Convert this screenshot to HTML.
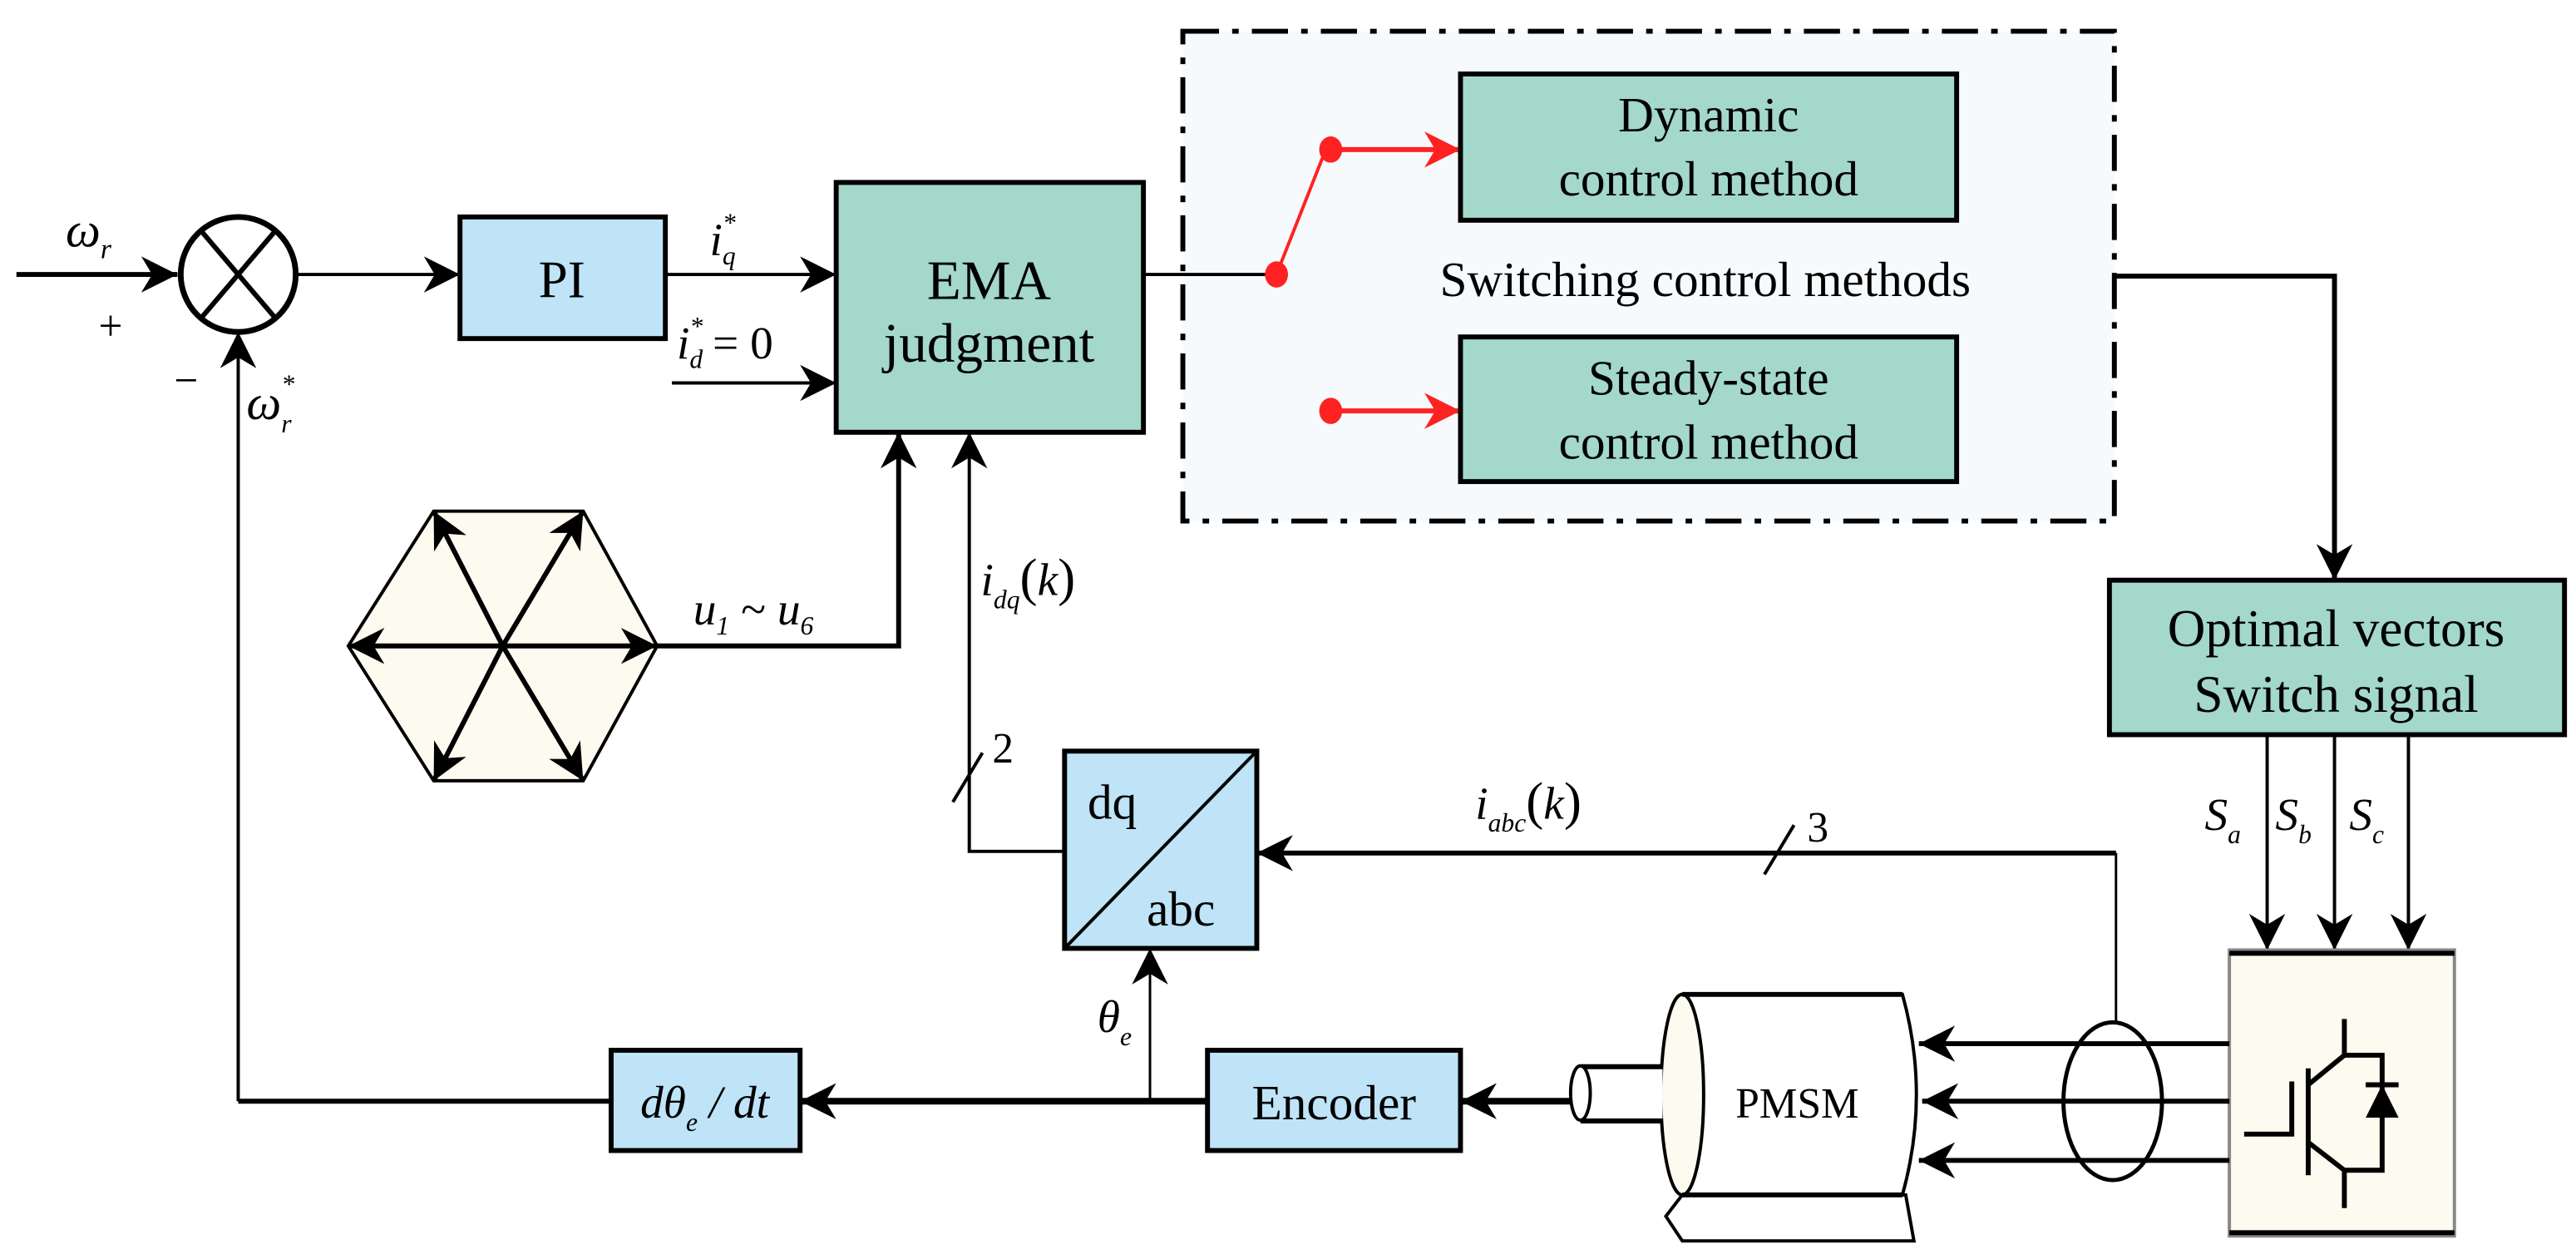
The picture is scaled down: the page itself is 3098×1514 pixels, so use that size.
<!DOCTYPE html>
<html><head><meta charset="utf-8"><style>html,body{margin:0;padding:0;background:#fff}svg{display:block}</style></head><body>
<svg width="3098" height="1514" viewBox="0 0 1568 766" preserveAspectRatio="none" xmlns="http://www.w3.org/2000/svg" font-family="Liberation Serif, serif">
<defs>
<marker id="A" viewBox="0 0 10 10" markerWidth="22" markerHeight="22" refX="10" refY="5" orient="auto" markerUnits="userSpaceOnUse"><path d="M0,0 L10,5 L0,10 L3,5 z" fill="#000"/></marker>
<marker id="R" viewBox="0 0 10 10" markerWidth="22" markerHeight="22" refX="10" refY="5" orient="auto" markerUnits="userSpaceOnUse"><path d="M0,0 L10,5 L0,10 L3,5 z" fill="#f22"/></marker>
</defs>
<rect x="720" y="19" width="567" height="298" fill="#f7fafc" stroke="#000" stroke-width="3" stroke-dasharray="22,8,4,8"/>
<line x1="10" y1="167" x2="108" y2="167" stroke="#000" stroke-width="3" marker-end="url(#A)"/>
<text x="40" y="150" font-size="30" font-style="italic">ω<tspan font-size="17" dy="7">r</tspan></text>
<text x="60" y="207" font-size="26">+</text>
<text x="106" y="240" font-size="26">−</text>
<ellipse cx="145" cy="167" rx="35" ry="35" fill="#fff" stroke="#000" stroke-width="3.5"/>
<line x1="122" y1="140" x2="168" y2="194" stroke="#000" stroke-width="3"/>
<line x1="168" y1="140" x2="122" y2="194" stroke="#000" stroke-width="3"/>
<line x1="180" y1="167" x2="280" y2="167" stroke="#000" stroke-width="2" marker-end="url(#A)"/>
<rect x="280" y="132" width="125" height="74" fill="#bfe3f7" stroke="#000" stroke-width="3"/>
<text x="342" y="181" font-size="32" text-anchor="middle">PI</text>
<line x1="405" y1="167" x2="509" y2="167" stroke="#000" stroke-width="2" marker-end="url(#A)"/>
<text x="432" y="155" font-size="28" font-style="italic">i<tspan font-size="16" dy="-14">*</tspan><tspan font-size="16" dx="-8" dy="20">q</tspan></text>
<line x1="409" y1="233" x2="509" y2="233" stroke="#000" stroke-width="2" marker-end="url(#A)"/>
<text x="412" y="218" font-size="28" font-style="italic">i<tspan font-size="16" dy="-14">*</tspan><tspan font-size="16" dx="-8" dy="20">d</tspan><tspan font-style="normal" font-size="28" dx="6" dy="-6">= 0</tspan></text>
<rect x="509" y="111" width="187" height="152" fill="#a3d8cb" stroke="#000" stroke-width="3"/>
<text x="602" y="182" font-size="34" text-anchor="middle">EMA</text>
<text x="602" y="220" font-size="34" text-anchor="middle">judgment</text>
<line x1="145" y1="670" x2="145" y2="202" stroke="#000" stroke-width="2" marker-end="url(#A)"/>
<text x="150" y="255" font-size="30" font-style="italic">ω<tspan font-size="16" dy="-16">*</tspan><tspan font-size="16" dx="-8" dy="24">r</tspan></text>
<polygon points="212,393 264,311 355,311 400,393 355,475 264,475" fill="#fdfaf0" stroke="#000" stroke-width="2"/>
<g stroke="#000" stroke-width="3">
<line x1="306" y1="393" x2="212" y2="393" marker-end="url(#A)"/>
<line x1="306" y1="393" x2="400" y2="393" marker-end="url(#A)"/>
<line x1="306" y1="393" x2="264" y2="311" marker-end="url(#A)"/>
<line x1="306" y1="393" x2="355" y2="311" marker-end="url(#A)"/>
<line x1="306" y1="393" x2="264" y2="475" marker-end="url(#A)"/>
<line x1="306" y1="393" x2="355" y2="475" marker-end="url(#A)"/>
</g>
<polyline points="400,393 547,393 547,263" fill="none" stroke="#000" stroke-width="3" marker-end="url(#A)"/>
<text x="422" y="380" font-size="28" font-style="italic">u<tspan font-size="16" dy="6">1</tspan><tspan font-style="normal" dy="-6"> ~ </tspan>u<tspan font-size="16" dy="6">6</tspan></text>
<polyline points="648,518 590,518 590,263" fill="none" stroke="#000" stroke-width="2" marker-end="url(#A)"/>
<text x="597" y="362" font-size="28" font-style="italic">i<tspan font-size="16" dy="8">dq</tspan><tspan font-style="normal" font-size="32" dy="-8">(</tspan>k<tspan font-style="normal" font-size="32">)</tspan></text>
<line x1="580" y1="488" x2="598" y2="458" stroke="#000" stroke-width="2"/>
<text x="604" y="464" font-size="26">2</text>
<rect x="648" y="457" width="117" height="120" fill="#bfe3f7" stroke="#000" stroke-width="3"/>
<line x1="648" y1="577" x2="765" y2="457" stroke="#000" stroke-width="2"/>
<text x="662" y="498" font-size="30">dq</text>
<text x="698" y="563" font-size="30">abc</text>
<line x1="1288" y1="519" x2="765" y2="519" stroke="#000" stroke-width="3" marker-end="url(#A)"/>
<line x1="1288" y1="519" x2="1288" y2="622" stroke="#000" stroke-width="1.5"/>
<text x="898" y="498" font-size="28" font-style="italic">i<tspan font-size="16" dy="8">abc</tspan><tspan font-style="normal" font-size="32" dy="-8">(</tspan>k<tspan font-style="normal" font-size="32">)</tspan></text>
<line x1="1074" y1="532" x2="1092" y2="502" stroke="#000" stroke-width="2"/>
<text x="1100" y="512" font-size="26">3</text>
<line x1="696" y1="167" x2="777" y2="167" stroke="#000" stroke-width="2"/>
<line x1="777" y1="167" x2="805" y2="96" stroke="#f22" stroke-width="2"/>
<ellipse cx="777" cy="167" rx="7" ry="8" fill="#f22"/>
<ellipse cx="810" cy="91" rx="7" ry="8" fill="#f22"/>
<ellipse cx="810" cy="250" rx="7" ry="8" fill="#f22"/>
<line x1="810" y1="91" x2="889" y2="91" stroke="#f22" stroke-width="3" marker-end="url(#R)"/>
<line x1="810" y1="250" x2="889" y2="250" stroke="#f22" stroke-width="3" marker-end="url(#R)"/>
<rect x="889" y="45" width="302" height="89" fill="#a3d8cb" stroke="#000" stroke-width="3"/>
<text x="1040" y="80" font-size="30" text-anchor="middle">Dynamic</text>
<text x="1040" y="119" font-size="30" text-anchor="middle">control method</text>
<rect x="889" y="205" width="302" height="88" fill="#a3d8cb" stroke="#000" stroke-width="3"/>
<text x="1040" y="240" font-size="30" text-anchor="middle">Steady-state</text>
<text x="1040" y="279" font-size="30" text-anchor="middle">control method</text>
<text x="1038" y="180" font-size="30" text-anchor="middle">Switching control methods</text>
<polyline points="1287,168 1421,168 1421,353" fill="none" stroke="#000" stroke-width="3" marker-end="url(#A)"/>
<rect x="1284" y="353" width="277" height="94" fill="#a3d8cb" stroke="#000" stroke-width="3"/>
<text x="1422" y="393" font-size="32" text-anchor="middle">Optimal vectors</text>
<text x="1422" y="433" font-size="32" text-anchor="middle">Switch signal</text>
<g stroke="#000" stroke-width="2">
<line x1="1380" y1="447" x2="1380" y2="578" marker-end="url(#A)"/>
<line x1="1421" y1="447" x2="1421" y2="578" marker-end="url(#A)"/>
<line x1="1466" y1="447" x2="1466" y2="578" marker-end="url(#A)"/>
</g>
<text x="1342" y="505" font-size="28" font-style="italic">S<tspan font-size="16" dy="8">a</tspan></text>
<text x="1385" y="505" font-size="28" font-style="italic">S<tspan font-size="16" dy="8">b</tspan></text>
<text x="1430" y="505" font-size="28" font-style="italic">S<tspan font-size="16" dy="8">c</tspan></text>
<rect x="1357" y="578" width="137" height="174" fill="#fdfaf0" stroke="#888" stroke-width="2"/>
<line x1="1357" y1="580" x2="1494" y2="580" stroke="#000" stroke-width="3"/>
<line x1="1357" y1="750" x2="1494" y2="750" stroke="#000" stroke-width="3"/>
<g stroke="#000" stroke-width="3" fill="none">
<polyline points="1366,690 1395,690 1395,658"/>
<line x1="1405" y1="650" x2="1405" y2="715"/>
<polyline points="1427,620 1427,642 1405,660"/>
<polyline points="1405,695 1427,712 1427,735"/>
<polyline points="1427,642 1450,642 1450,712 1427,712"/>
</g>
<polygon points="1440,680 1460,680 1450,660" fill="#000"/>
<line x1="1440" y1="660" x2="1460" y2="660" stroke="#000" stroke-width="3"/>
<g stroke="#000" stroke-width="3">
<line x1="1357" y1="635" x2="1168" y2="635" marker-end="url(#A)"/>
<line x1="1357" y1="670" x2="1170" y2="670" marker-end="url(#A)"/>
<line x1="1357" y1="706" x2="1168" y2="706" marker-end="url(#A)"/>
</g>
<ellipse cx="1286" cy="670" rx="30" ry="48" fill="none" stroke="#000" stroke-width="2.5"/>
<polygon points="1024,727 1014,740 1024,755 1165,755 1160,727" fill="#fff" stroke="#000" stroke-width="2"/>
<path d="M1024,605 L1158,605 Q1175,666 1158,727 L1024,727 Z" fill="#fff" stroke="#000" stroke-width="2"/>
<ellipse cx="1024" cy="666" rx="13" ry="61" fill="#fdfaf0" stroke="#000" stroke-width="2"/>
<line x1="1024" y1="605" x2="1158" y2="605" stroke="#000" stroke-width="3"/>
<line x1="1024" y1="727" x2="1158" y2="727" stroke="#000" stroke-width="3"/>
<text x="1094" y="680" font-size="26" text-anchor="middle">PMSM</text>
<rect x="962" y="649" width="50" height="33" fill="#fff" stroke="none"/>
<line x1="962" y1="649" x2="1012" y2="649" stroke="#000" stroke-width="3"/>
<line x1="962" y1="682" x2="1012" y2="682" stroke="#000" stroke-width="3"/>
<ellipse cx="962" cy="665" rx="6" ry="16.5" fill="#fff" stroke="#000" stroke-width="2"/>
<line x1="956" y1="670" x2="889" y2="670" stroke="#000" stroke-width="4" marker-end="url(#A)"/>
<rect x="735" y="639" width="154" height="61" fill="#bfe3f7" stroke="#000" stroke-width="3"/>
<text x="812" y="681" font-size="30" text-anchor="middle">Encoder</text>
<line x1="735" y1="670" x2="487" y2="670" stroke="#000" stroke-width="4" marker-end="url(#A)"/>
<line x1="700" y1="670" x2="700" y2="577" stroke="#000" stroke-width="1.5" marker-end="url(#A)"/>
<text x="668" y="628" font-size="28" font-style="italic">θ<tspan font-size="16" dy="8">e</tspan></text>
<rect x="372" y="639" width="115" height="61" fill="#bfe3f7" stroke="#000" stroke-width="3"/>
<text x="429" y="680" font-size="28" font-style="italic" text-anchor="middle">dθ<tspan font-size="16" dy="8">e</tspan><tspan dy="-8"> / dt</tspan></text>
<line x1="372" y1="670" x2="145" y2="670" stroke="#000" stroke-width="3"/>
</svg>
</body></html>
